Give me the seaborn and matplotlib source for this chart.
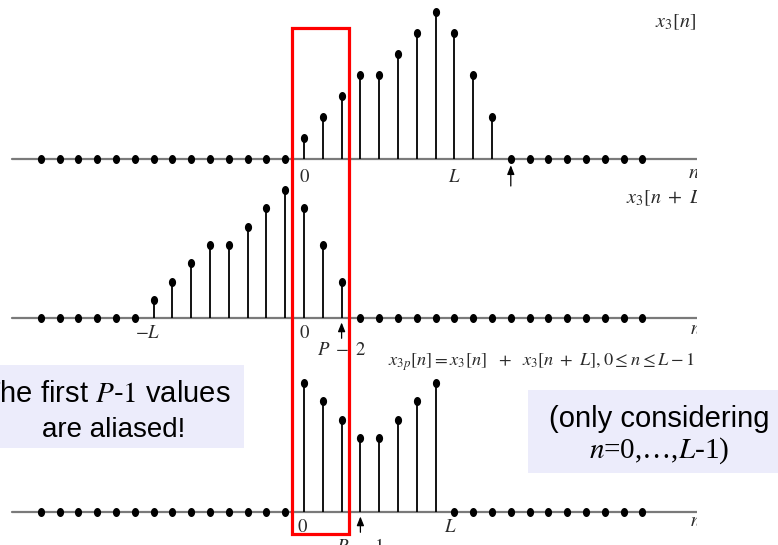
import numpy as np
import pandas as pd
import matplotlib
matplotlib.use("Agg")
import matplotlib.pyplot as plt
import seaborn as sns
from matplotlib.patches import Rectangle
from matplotlib.path import Path

# ---------------- data ----------------
n_idx = list(range(-14, 19))                      # sample index n
x3_vals = [0] * 14 + [1, 2, 3, 4, 4, 5, 6, 7, 6, 4, 2] + [0] * 8        # x3[n]
x3_shift_vals = [0] * 6 + [1, 2, 3, 4, 4, 5, 6, 7, 6, 4, 2] + [0] * 16  # x3[n+L]
x3p_vals = [0] * 14 + [7, 6, 5, 4, 4, 5, 6, 7] + [0] * 11              # x3p[n]

L_pos = 8          # position of the "L" tick
neg_L_pos = -8     # position of "-L"
arrow_top = 11     # L+P-1
arrow_mid = 2      # P-2
arrow_bot = 3      # P-1

# ---------------- style ----------------
W, H = 778, 545
sns.set_theme(style="white")
plt.rcParams["font.family"] = ["Liberation Sans", "DejaVu Sans"]
plt.rcParams["mathtext.fontset"] = "stix"

fig = plt.figure(figsize=(W / 100, H / 100), dpi=100)
fig.patch.set_facecolor("white")

X0_PX, DX_PX, RIGHT_PX = 304.0, 18.8, 697.0
TXT = "#2a2a2a"

t = np.linspace(0, 2 * np.pi, 41)
ellipse = Path(np.column_stack([0.8 * np.cos(t), np.sin(t)]))


def make_panel(top, bot, base, unit):
    ax = fig.add_axes([0, 1 - bot / H, RIGHT_PX / W, (bot - top) / H])
    ax.patch.set_alpha(0)
    return ax, (-X0_PX / DX_PX, (RIGHT_PX - X0_PX) / DX_PX), (-(bot - base) / unit, (base - top) / unit)


def px_n(px):
    return (px - X0_PX) / DX_PX


def draw(ax, vals, xl, yl):
    df = pd.DataFrame({"n": n_idx, "v": vals})
    nz = df[df.v != 0]
    ax.axhline(0, xmin=12 / RIGHT_PX, xmax=1, color="#7a7a7a", lw=1.6, zorder=1)
    ax.vlines(nz.n, 0, nz.v, color="black", lw=1.3, zorder=2)
    sns.scatterplot(data=df, x="n", y="v", ax=ax, color="black", marker=ellipse,
                    s=42, linewidth=0, zorder=3, legend=False)
    ax.set_xlim(*xl)
    ax.set_ylim(*yl)
    ax.axis("off")


def lab(ax, pos, s, dy, dx=0, size=13.5, **kw):
    ax.annotate(s, xy=(pos, 0), xytext=(dx, dy), textcoords="offset pixels",
                ha="center", va="center", fontsize=size, color=TXT, **kw)


def arrow(ax, pos, tail=-21, gap=4.0):
    ax.annotate("", xy=(pos, 0), xytext=(0, tail), textcoords="offset pixels",
                arrowprops=dict(arrowstyle="-|>,head_length=0.45,head_width=0.18",
                                color="black", lw=0.9, shrinkA=0, shrinkB=gap))


# ---- top panel: x3[n]
ax1, xl, yl = make_panel(0, 185, 159, 21.0)
draw(ax1, x3_vals, xl, yl)
lab(ax1, 0, r"$0$", -18)
lab(ax1, L_pos, r"$L$", -19)
arrow(ax1, arrow_top, tail=-27, gap=4.5)
ax1.text(px_n(688), (159 - 172) / 21.0, r"$n$", fontsize=15, ha="left", va="center",
         color=TXT, clip_on=True)
ax1.text(px_n(655), (159 - 22) / 21.0, r"$x_3[n]$", fontsize=14.5, ha="left", va="center",
         color=TXT, clip_on=True)

# ---- middle panel: x3[n+L]
ax2, xl, yl = make_panel(185, 345, 318.3, 18.33)
draw(ax2, x3_shift_vals, xl, yl)
lab(ax2, neg_L_pos, r"$-L$", -15, dx=-6)
lab(ax2, 0, r"$0$", -15)
arrow(ax2, arrow_mid, tail=-20, gap=3.0)
lab(ax2, arrow_mid, r"$P\ -\ 2$", -32)
ax2.text(px_n(690), (318.3 - 330) / 18.33, r"$n$", fontsize=14, ha="left", va="center",
         color=TXT, clip_on=True)
ax2.text(px_n(626), (318.3 - 198) / 18.33, r"$x_3[n\ +\ L]$", fontsize=14.5, ha="left",
         va="center", color=TXT, clip_on=True)

# ---- bottom panel: x3p[n]
ax3, xl, yl = make_panel(345, 545, 512.3, 18.5)
draw(ax3, x3p_vals, xl, yl)
lab(ax3, 0, r"$0$", -15, dx=-2)
lab(ax3, L_pos, r"$L$", -15, dx=-4)
arrow(ax3, arrow_bot, tail=-20, gap=3.0)
lab(ax3, arrow_bot, r"$P\ -\ 1$", -35)
ax3.text(px_n(690), (512.3 - 522) / 18.5, r"$n$", fontsize=14, ha="left", va="center",
         color=TXT, clip_on=True)
ax3.text(px_n(388), (512.3 - 362) / 18.5,
         r"$x_{3p}[n] = x_3[n]\ \ +\ \ x_3[n\ +\ L], 0 \leq n \leq L-1$",
         fontsize=13.2, ha="left", va="center", color=TXT)

# ---- red highlight box
fig.add_artist(Rectangle((292 / W, 1 - 534 / H), 57 / W, (534 - 28) / H,
                         transform=fig.transFigure, fill=False, ec="#ff0000", lw=2.3, zorder=5))

# ---- callout boxes
fig.add_artist(Rectangle((0, 1 - 448 / H), 244 / W, 83 / H, transform=fig.transFigure,
                         fc="#ececfb", ec="none", zorder=0.5))
fig.add_artist(Rectangle((528 / W, 1 - 473 / H), 250 / W, 83 / H, transform=fig.transFigure,
                         fc="#ececfb", ec="none", zorder=0.5))

fig.text(231 / W, 1 - 402 / H, r"The first $P$-$\mathrm{1}$ values", ha="right",
         va="baseline", fontsize=21, color="black")
fig.text(114 / W, 1 - 437 / H, "are aliased!", ha="center", va="baseline",
         fontsize=20, color="black")
fig.text(659 / W, 1 - 427 / H, "(only considering", ha="center", va="baseline",
         fontsize=21, color="black")
fig.text(659 / W, 1 - 458 / H, r"$n$=0,…,$L$-1)", ha="center", va="baseline",
         fontsize=21, color="black", family=["Liberation Serif", "DejaVu Serif"])

fig.savefig("out.png", dpi=100)
